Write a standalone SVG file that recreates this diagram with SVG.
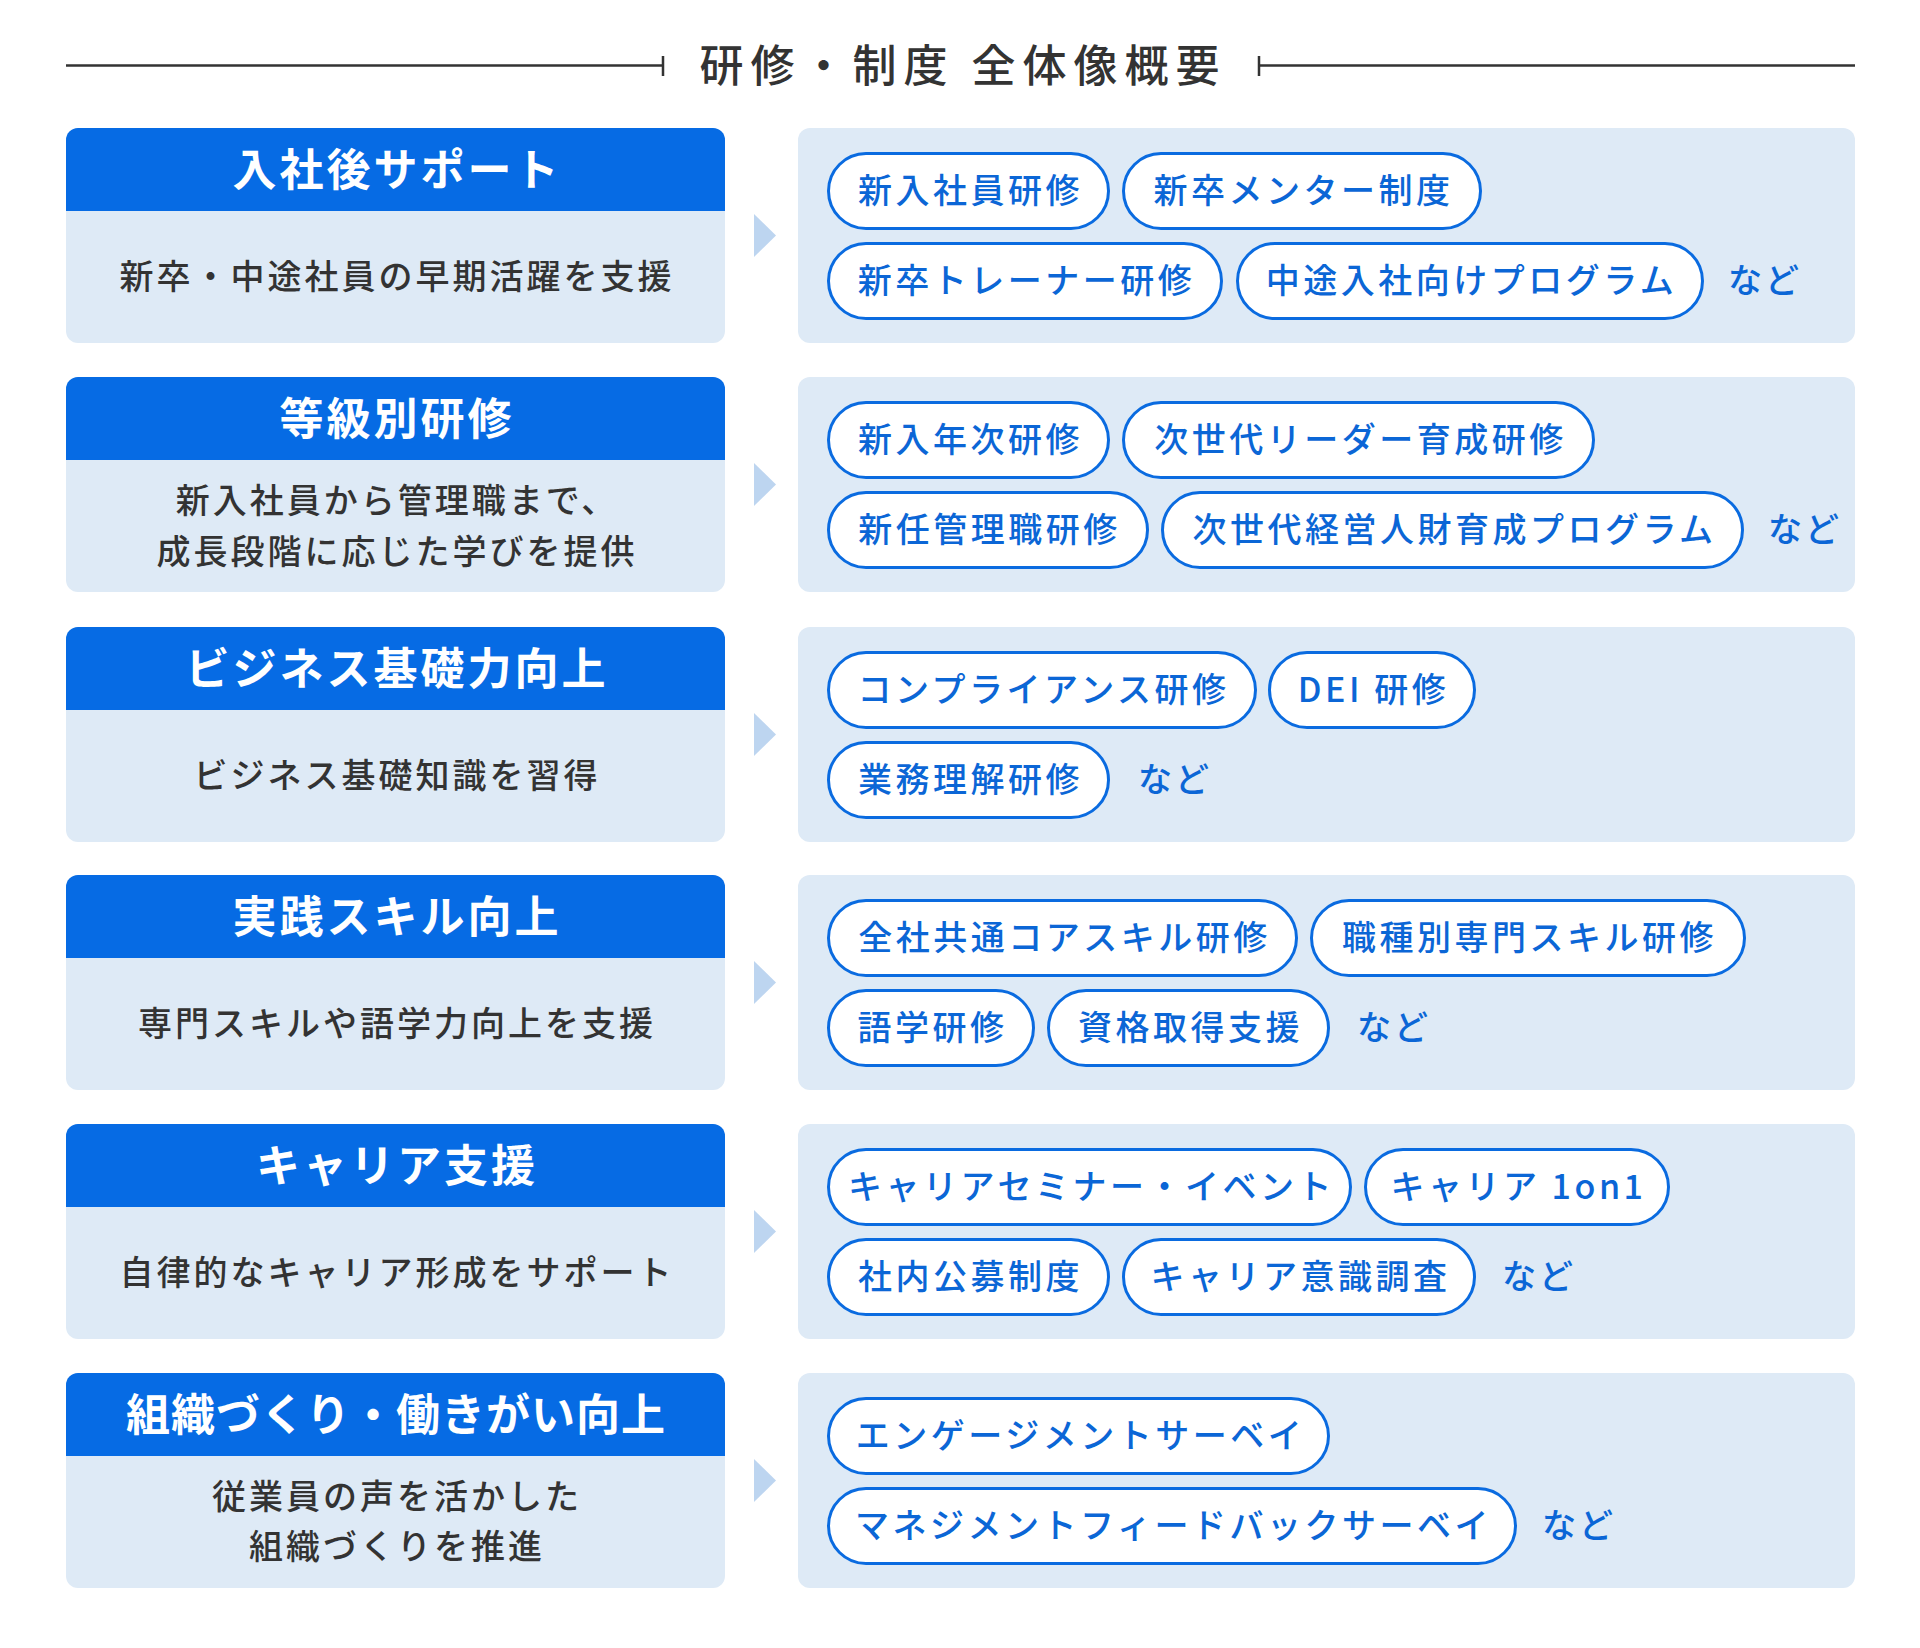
<svg xmlns="http://www.w3.org/2000/svg" width="1920" height="1648" viewBox="0 0 1920 1648">
<style>
text{font-family:"Noto Sans CJK JP","Noto Sans",sans-serif;}
.title{font-size:44px;fill:#333;font-weight:500;letter-spacing:7px;text-anchor:middle;dominant-baseline:central;}
.hd{font-size:44px;fill:#fff;font-weight:700;letter-spacing:3px;text-anchor:middle;dominant-baseline:central;}
.ds{font-size:34px;fill:#333;font-weight:500;letter-spacing:3px;text-anchor:middle;dominant-baseline:central;}
.pt{font-size:34px;fill:#0B66D6;font-weight:500;letter-spacing:3.5px;text-anchor:middle;dominant-baseline:central;}
.nd{font-size:34px;fill:#0B66D6;font-weight:500;letter-spacing:3px;dominant-baseline:central;}
.hdr{fill:#066BE4;}
.body{fill:#DEEAF6;}
.pill{fill:#fff;stroke:#0A6BE0;stroke-width:3;}
.arr{fill:#BDD5F0;}
.rule{stroke:#333;stroke-width:2.5;fill:none;}
</style>
<rect width="1920" height="1648" fill="#fff"/>
<g id="title">
<path class="rule" d="M66,65.5 H663 M663,56 V76 M1259,56 V76 M1259,65.5 H1855"/>
<text class="title" x="963" y="62.5">研修・制度 全体像概要</text>
</g>
<g id="connectors">
<polygon class="arr" points="754,214 776,235.5 754,257"/>
<polygon class="arr" points="754,463 776,484.5 754,506"/>
<polygon class="arr" points="754,713 776,734.5 754,756"/>
<polygon class="arr" points="754,961 776,982.5 754,1004"/>
<polygon class="arr" points="754,1210 776,1231.5 754,1253"/>
<polygon class="arr" points="754,1459 776,1480.5 754,1502"/>
</g>
<g id="node-1">
<rect class="body" x="66" y="128" width="659" height="215" rx="12"/>
<path class="hdr" d="M66,140 a12,12 0 0 1 12,-12 H713 a12,12 0 0 1 12,12 V211 H66 Z"/>
<text class="hd" x="397" y="167">入社後サポート</text>
<text class="ds" x="397" y="274.5">新卒・中途社員の早期活躍を支援</text>
</g>
<g id="panel-1">
<rect class="body" x="798" y="128" width="1057" height="215" rx="12"/>
<rect class="pill" x="828.5" y="153.5" width="280" height="75" rx="37.5"/><text class="pt" x="970.5" y="188.5">新入社員研修</text>
<rect class="pill" x="1123.5" y="153.5" width="357" height="75" rx="37.5"/><text class="pt" x="1303.5" y="188.5">新卒メンター制度</text>
<rect class="pill" x="828.5" y="243.5" width="393" height="75" rx="37.5"/><text class="pt" x="1026.5" y="278.5">新卒トレーナー研修</text>
<rect class="pill" x="1237.5" y="243.5" width="465" height="75" rx="37.5"/><text class="pt" x="1471.5" y="278.5">中途入社向けプログラム</text>
<text class="nd" x="1728" y="278.5">など</text>
</g>
<g id="node-2">
<rect class="body" x="66" y="377" width="659" height="215" rx="12"/>
<path class="hdr" d="M66,389 a12,12 0 0 1 12,-12 H713 a12,12 0 0 1 12,12 V460 H66 Z"/>
<text class="hd" x="397" y="416">等級別研修</text>
<text class="ds" x="397" y="498">新入社員から管理職まで、</text>
<text class="ds" x="397" y="549">成長段階に応じた学びを提供</text>
</g>
<g id="panel-2">
<rect class="body" x="798" y="377" width="1057" height="215" rx="12"/>
<rect class="pill" x="828.5" y="402.5" width="280" height="75" rx="37.5"/><text class="pt" x="970.5" y="437.5">新入年次研修</text>
<rect class="pill" x="1123.5" y="402.5" width="470" height="75" rx="37.5"/><text class="pt" x="1360.5" y="437.5">次世代リーダー育成研修</text>
<rect class="pill" x="828.5" y="492.5" width="319" height="75" rx="37.5"/><text class="pt" x="989.5" y="527.5">新任管理職研修</text>
<rect class="pill" x="1162.5" y="492.5" width="580" height="75" rx="37.5"/><text class="pt" x="1454.5" y="527.5">次世代経営人財育成プログラム</text>
<text class="nd" x="1768" y="527.5">など</text>
</g>
<g id="node-3">
<rect class="body" x="66" y="627" width="659" height="215" rx="12"/>
<path class="hdr" d="M66,639 a12,12 0 0 1 12,-12 H713 a12,12 0 0 1 12,12 V710 H66 Z"/>
<text class="hd" x="397" y="666">ビジネス基礎力向上</text>
<text class="ds" x="397" y="773.5">ビジネス基礎知識を習得</text>
</g>
<g id="panel-3">
<rect class="body" x="798" y="627" width="1057" height="215" rx="12"/>
<rect class="pill" x="828.5" y="652.5" width="427" height="75" rx="37.5"/><text class="pt" x="1043.5" y="687.5">コンプライアンス研修</text>
<rect class="pill" x="1269.5" y="652.5" width="205" height="75" rx="37.5"/><text class="pt" x="1373.5" y="687.5">DEI 研修</text>
<rect class="pill" x="828.5" y="742.5" width="280" height="75" rx="37.5"/><text class="pt" x="970.5" y="777.5">業務理解研修</text>
<text class="nd" x="1138" y="777.5">など</text>
</g>
<g id="node-4">
<rect class="body" x="66" y="875" width="659" height="215" rx="12"/>
<path class="hdr" d="M66,887 a12,12 0 0 1 12,-12 H713 a12,12 0 0 1 12,12 V958 H66 Z"/>
<text class="hd" x="397" y="914">実践スキル向上</text>
<text class="ds" x="397" y="1021.5">専門スキルや語学力向上を支援</text>
</g>
<g id="panel-4">
<rect class="body" x="798" y="875" width="1057" height="215" rx="12"/>
<rect class="pill" x="828.5" y="900.5" width="468" height="75" rx="37.5"/><text class="pt" x="1064.5" y="935.5">全社共通コアスキル研修</text>
<rect class="pill" x="1311.5" y="900.5" width="433" height="75" rx="37.5"/><text class="pt" x="1529.5" y="935.5">職種別専門スキル研修</text>
<rect class="pill" x="828.5" y="990.5" width="205" height="75" rx="37.5"/><text class="pt" x="932.5" y="1025.5">語学研修</text>
<rect class="pill" x="1048.5" y="990.5" width="280" height="75" rx="37.5"/><text class="pt" x="1190.5" y="1025.5">資格取得支援</text>
<text class="nd" x="1357" y="1025.5">など</text>
</g>
<g id="node-5">
<rect class="body" x="66" y="1124" width="659" height="215" rx="12"/>
<path class="hdr" d="M66,1136 a12,12 0 0 1 12,-12 H713 a12,12 0 0 1 12,12 V1207 H66 Z"/>
<text class="hd" x="397" y="1163">キャリア支援</text>
<text class="ds" x="397" y="1270.5">自律的なキャリア形成をサポート</text>
</g>
<g id="panel-5">
<rect class="body" x="798" y="1124" width="1057" height="215" rx="12"/>
<rect class="pill" x="828.5" y="1149.5" width="522" height="75" rx="37.5"/><text class="pt" x="1091.5" y="1184.5">キャリアセミナー・イベント</text>
<rect class="pill" x="1365.5" y="1149.5" width="303" height="75" rx="37.5"/><text class="pt" x="1518.5" y="1184.5">キャリア 1on1</text>
<rect class="pill" x="828.5" y="1239.5" width="280" height="75" rx="37.5"/><text class="pt" x="970.5" y="1274.5">社内公募制度</text>
<rect class="pill" x="1123.5" y="1239.5" width="351" height="75" rx="37.5"/><text class="pt" x="1300.5" y="1274.5">キャリア意識調査</text>
<text class="nd" x="1502" y="1274.5">など</text>
</g>
<g id="node-6">
<rect class="body" x="66" y="1373" width="659" height="215" rx="12"/>
<path class="hdr" d="M66,1385 a12,12 0 0 1 12,-12 H713 a12,12 0 0 1 12,12 V1456 H66 Z"/>
<text class="hd" x="396" y="1412" style="letter-spacing:1px">組織づくり・働きがい向上</text>
<text class="ds" x="397" y="1494">従業員の声を活かした</text>
<text class="ds" x="397" y="1544">組織づくりを推進</text>
</g>
<g id="panel-6">
<rect class="body" x="798" y="1373" width="1057" height="215" rx="12"/>
<rect class="pill" x="828.5" y="1398.5" width="500" height="75" rx="37.5"/><text class="pt" x="1080.5" y="1433.5">エンゲージメントサーベイ</text>
<rect class="pill" x="828.5" y="1488.5" width="687" height="75" rx="37.5"/><text class="pt" x="1173.5" y="1523.5">マネジメントフィードバックサーベイ</text>
<text class="nd" x="1542" y="1523.5">など</text>
</g>
</svg>
